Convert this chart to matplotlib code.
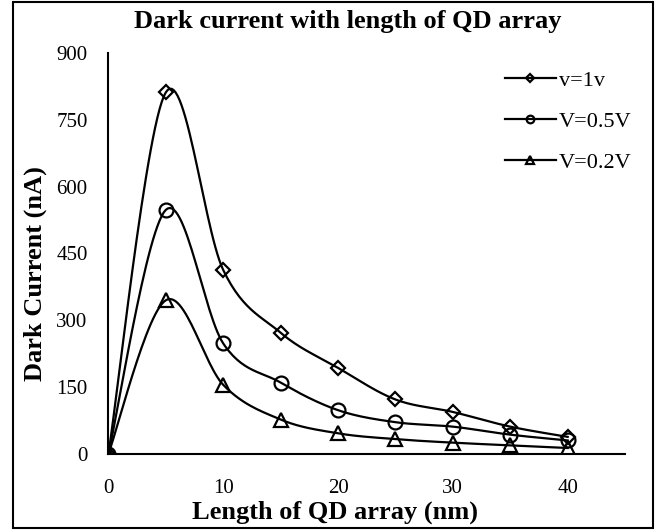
import numpy as np
import matplotlib
matplotlib.use("Agg")
import matplotlib.pyplot as plt
from matplotlib.patches import Rectangle

# QD array length (nm)
length_nm = [0, 5, 10, 15, 20, 25, 30, 35, 40]

# dark current (nA) for each bias
current_1v = [0, 812, 413, 272, 193, 122, 94, 61, 38]
current_05v = [0, 548, 248, 160, 98, 71, 61, 43, 30]
current_02v = [0, 345, 155, 77, 46, 33, 25, 19, 13]

series_labels = ["v=1v", "V=0.5V", "V=0.2V"]
series_markers = ["D", "o", "^"]
series_msize = [7, 10, 10]

x_ticks = [0, 10, 20, 30, 40]
y_ticks = [0, 150, 300, 450, 600, 750, 900]


def smooth(x, y, steps=30):
    # excel style smoothed line: cubic bezier with catmull-rom control points
    x = np.asarray(x, float)
    y = np.asarray(y, float)
    pts = np.column_stack([x, y])
    out = []
    n = len(pts)
    for i in range(n - 1):
        p0 = pts[max(i - 1, 0)]
        p1 = pts[i]
        p2 = pts[i + 1]
        p3 = pts[min(i + 2, n - 1)]
        c1 = p1 + (p2 - p0) / 6.0
        c2 = p2 - (p3 - p1) / 6.0
        t = np.linspace(0, 1, steps)[:, None]
        seg = ((1 - t) ** 3) * p1 + 3 * ((1 - t) ** 2) * t * c1 \
            + 3 * (1 - t) * t ** 2 * c2 + t ** 3 * p2
        out.append(seg if i == 0 else seg[1:])
    out = np.vstack(out)
    return out[:, 0], out[:, 1]


plt.rcParams["font.family"] = ["Liberation Serif", "DejaVu Serif"]

fig = plt.figure(figsize=(6.65, 5.32), dpi=100)
ax = fig.add_axes([0.163, 0.147, 0.777, 0.753])

all_series = [current_1v, current_05v, current_02v]
for vals, lab, mk, ms in zip(all_series, series_labels, series_markers, series_msize):
    sx, sy = smooth(length_nm, vals)
    ax.plot(sx, sy, color="black", lw=1.6, zorder=2)
    ax.plot(length_nm, vals, linestyle="none", marker=mk, markersize=ms,
            markerfacecolor="none", markeredgecolor="black", markeredgewidth=1.6,
            zorder=3)
    # legend proxy
    ax.plot([], [], color="black", lw=1.6, marker=mk, markersize=ms * 0.55,
            markerfacecolor="none", markeredgecolor="black",
            markeredgewidth=1.6, label=lab)

ax.set_xlim(0, 45)
ax.set_ylim(0, 900)
ax.set_xticks(x_ticks)
ax.set_yticks(y_ticks)
ax.tick_params(length=0, labelsize=15)
ax.tick_params(axis="y", pad=15)
ax.tick_params(axis="x", pad=18)
for side in ["top", "right"]:
    ax.spines[side].set_visible(False)
for side in ["left", "bottom"]:
    ax.spines[side].set_linewidth(1.5)

ax.set_xlabel("Length of QD array (nm)", fontsize=19, fontweight="bold")
ax.set_ylabel("Dark Current (nA)", fontsize=19, fontweight="bold")
# excel placed the axis titles a bit off-centre
ax.xaxis.set_label_coords(0.438, -0.118)
ax.yaxis.set_label_coords(-0.118, 0.45)
fig.text(0.523, 0.96, "Dark current with length of QD array", ha="center",
         va="center", fontsize=19, fontweight="bold")

leg = ax.legend(loc="upper left", bbox_to_anchor=(0.759, 0.868),
                bbox_transform=fig.transFigure, frameon=False, borderpad=0,
                borderaxespad=0, fontsize=16, handlelength=2.3,
                handletextpad=0.12, labelspacing=0.92)

fig.patches.append(Rectangle((0.02, 0.008), 0.962, 0.988, transform=fig.transFigure,
                             fill=False, edgecolor="black", linewidth=1.5))

fig.savefig("out.png", dpi=100)
